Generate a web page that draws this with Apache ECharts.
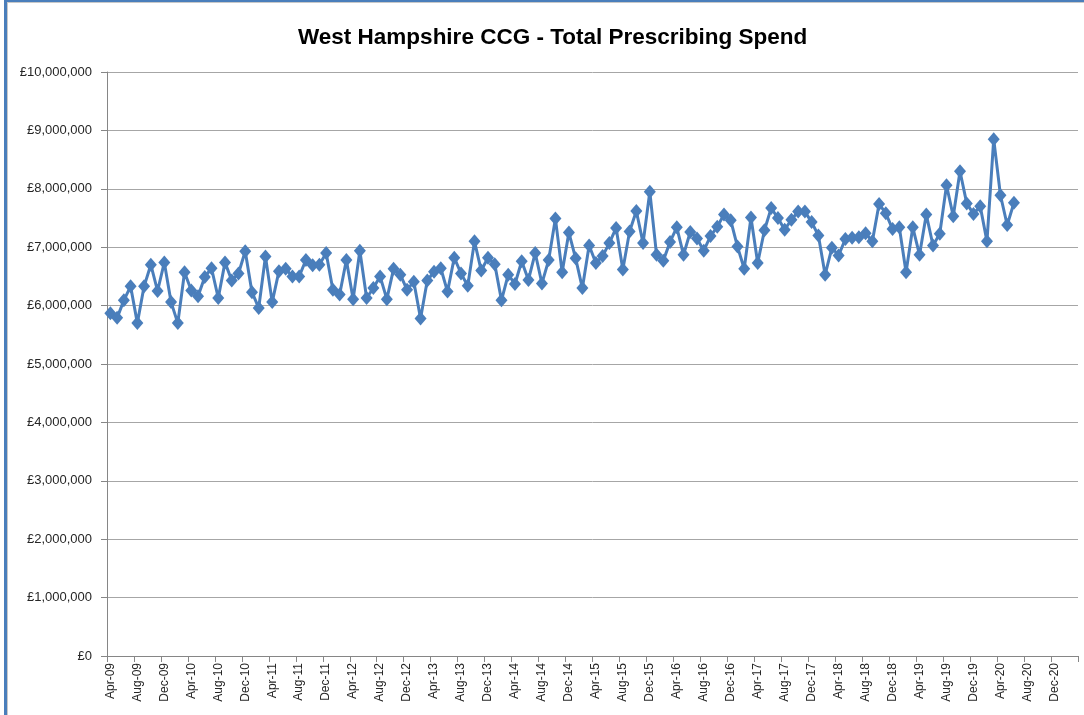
<!DOCTYPE html>
<html>
<head>
<meta charset="utf-8">
<script src="https://cdn.jsdelivr.net/npm/echarts@6/dist/echarts.min.js"></script>
<style>
  html, body { margin: 0; padding: 0; background: #fff; }
  #frame {
    position: absolute; left: 4px; top: 0; width: 1080px; height: 715px;
    border-top: 2px solid #4a7ebb; border-left: 3px solid #4a7ebb;
    box-sizing: border-box;
  }
  #inner {
    position: absolute; left: 0; top: 0; right: 0; bottom: 0;
    border-top: 1px solid #c8c8c8; border-left: 1px solid #c8c8c8;
  }
  #chart { position: absolute; left: 0; top: 0; width: 1084px; height: 715px; }
</style>
</head>
<body>
<div id="frame"><div id="inner"></div></div>
<div id="chart"></div>
<script>
// axis: monthly categories from Apr-09 to Mar-21
const monthNames = ['Jan', 'Feb', 'Mar', 'Apr', 'May', 'Jun', 'Jul', 'Aug', 'Sep', 'Oct', 'Nov', 'Dec']
const startYear = 2009, startMonth = 3, monthCount = 144

// total prescribing spend (£), Apr-09 .. Jun-20
const spend0910 = [5870000, 5790000, 6090000, 6330000, 5700000, 6330000, 6700000, 6250000, 6740000, 6060000, 5700000, 6570000]
const spend1011 = [6260000, 6160000, 6490000, 6640000, 6130000, 6740000, 6430000, 6550000, 6930000, 6230000, 5960000, 6840000]
const spend1112 = [6060000, 6590000, 6630000, 6500000, 6500000, 6780000, 6690000, 6700000, 6900000, 6270000, 6190000, 6780000]
const spend1213 = [6110000, 6940000, 6130000, 6300000, 6500000, 6110000, 6630000, 6530000, 6270000, 6410000, 5780000, 6430000]
const spend1314 = [6580000, 6640000, 6240000, 6820000, 6550000, 6340000, 7100000, 6600000, 6820000, 6710000, 6090000, 6530000]
const spend1415 = [6370000, 6760000, 6440000, 6900000, 6380000, 6780000, 7490000, 6570000, 7250000, 6810000, 6300000, 7030000]
const spend1516 = [6730000, 6850000, 7070000, 7330000, 6620000, 7270000, 7620000, 7070000, 7950000, 6870000, 6770000, 7090000]
const spend1617 = [7340000, 6870000, 7260000, 7150000, 6940000, 7190000, 7350000, 7560000, 7460000, 7010000, 6630000, 7510000]
const spend1718 = [6730000, 7290000, 7670000, 7500000, 7300000, 7470000, 7610000, 7610000, 7430000, 7200000, 6530000, 6990000]
const spend1819 = [6860000, 7140000, 7160000, 7170000, 7240000, 7100000, 7740000, 7580000, 7310000, 7340000, 6570000, 7340000]
const spend1920 = [6870000, 7560000, 7030000, 7230000, 8060000, 7530000, 8300000, 7750000, 7570000, 7700000, 7100000, 8850000]
const spend2021 = [7890000, 7380000, 7760000]

const categories = []
for (let i = 0; i < monthCount; i++) {
  let m = (startMonth + i) % 12
  let y = startYear + Math.floor((startMonth + i) / 12)
  categories.push(monthNames[m] + '-' + String(y).slice(2))
}
const spend = [].concat(spend0910, spend1011, spend1112, spend1213, spend1314, spend1415,
  spend1516, spend1617, spend1718, spend1819, spend1920, spend2021)

let chart = echarts.init(document.getElementById('chart'))
chart.setOption({
  animation: false,
  title: {
    text: 'West Hampshire CCG - Total Prescribing Spend',
    left: 293,
    top: 21,
    textStyle: {
      fontFamily: 'Liberation Sans, Arial, sans-serif',
      fontSize: 22.5,
      fontWeight: 'bold',
      color: '#000'
    }
  },
  grid: { left: 107, right: 6, top: 72, bottom: 59 },
  xAxis: {
    type: 'category',
    data: categories,
    boundaryGap: true,
    axisLine: { lineStyle: { color: '#868686', width: 1 } },
    axisTick: { show: true, interval: 3, length: 6, lineStyle: { color: '#868686' } },
    axisLabel: {
      interval: 3,
      rotate: 90,
      margin: 7,
      fontFamily: 'Liberation Sans, Arial, sans-serif',
      fontSize: 12,
      color: '#262626'
    },
    splitLine: { show: false }
  },
  yAxis: {
    type: 'value',
    min: 0,
    max: 10000000,
    interval: 1000000,
    axisLine: { show: true, lineStyle: { color: '#868686', width: 1 } },
    axisTick: { show: true, length: 6, lineStyle: { color: '#868686' } },
    axisLabel: {
      margin: 15,
      fontFamily: 'Liberation Sans, Arial, sans-serif',
      fontSize: 13,
      color: '#262626',
      formatter: v => '£' + v.toLocaleString('en-GB')
    },
    splitLine: { show: true, lineStyle: { color: '#a6a6a6', width: 1 } }
  },
  series: [
    {
      type: 'line',
      data: spend,
      symbol: 'diamond',
      symbolSize: [12, 14],
      showAllSymbol: true,
      lineStyle: { color: '#4a7ebb', width: 3 },
      itemStyle: { color: '#4a7ebb' }
    }
  ]
})
</script>
</body>
</html>
